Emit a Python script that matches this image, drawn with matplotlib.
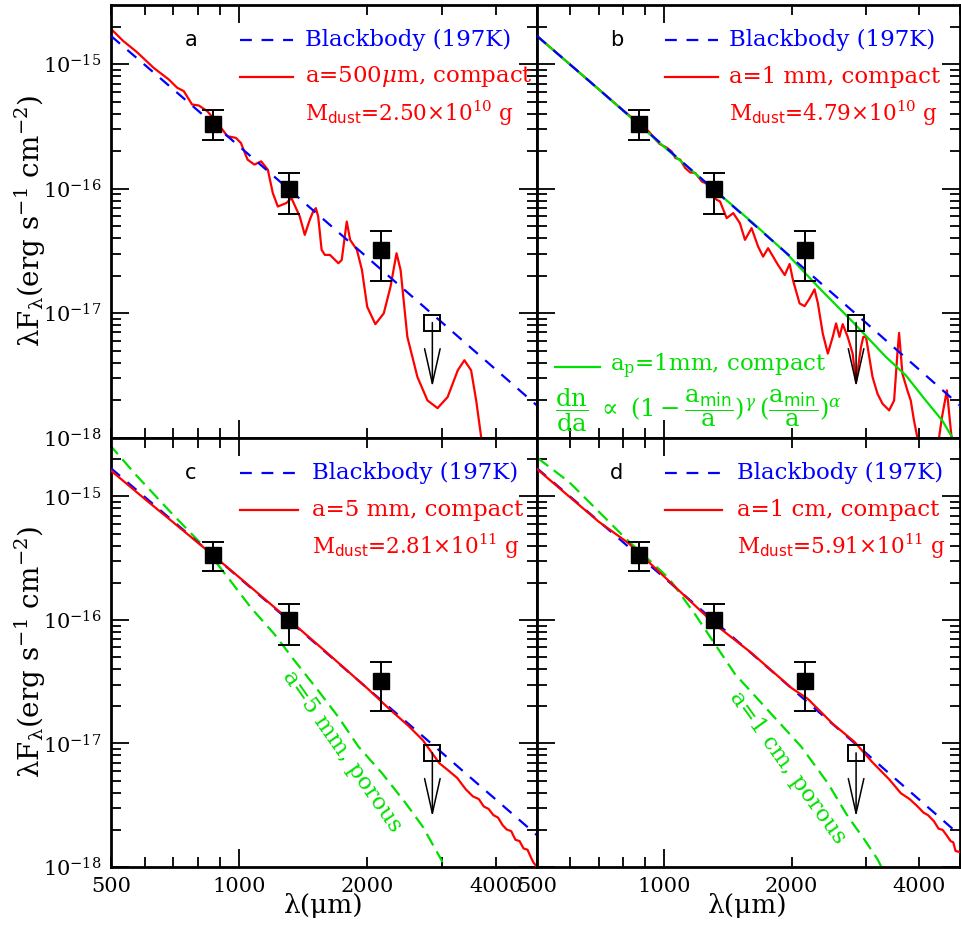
import numpy as np
import matplotlib
matplotlib.use('Agg')
import matplotlib.pyplot as plt
from matplotlib.ticker import FixedLocator, FuncFormatter, NullFormatter, LogFormatterSciNotation

plt.rcParams['font.family'] = ['DejaVu Serif']
plt.rcParams['mathtext.fontset'] = 'dejavuserif'
plt.rcParams['lines.scale_dashes'] = False

# ---------------- data ----------------
# observations (wavelength in micron, lambda*F_lambda in erg s^-1 cm^-2)
lam_obs = [870, 1310, 2150]
flux_obs = [3.34e-16, 9.95e-17, 3.19e-17]
flux_hi = [4.26e-16, 1.34e-16, 4.6e-17]
flux_lo = [2.48e-16, 6.25e-17, 1.82e-17]
lam_ul = 2840
flux_ul = 8.4e-18
flux_ul_tip = 2.55e-18

# blackbody 197 K (log10 of lambda F_lambda)
lam_bb = [500, 600, 700, 800, 1000, 1300, 1600, 2000, 2500, 3000, 3500, 4000, 4500, 5000]
log_bb = [-14.772, -15.004, -15.201, -15.372, -15.659, -15.997, -16.265, -16.554,
          -16.843, -17.079, -17.280, -17.453, -17.606, -17.743]

# panel a: a=500um compact
lam_a = [500, 534, 575, 629, 683, 715, 741, 775, 804, 841, 888, 938, 982, 1009, 1046, 1085,
         1126, 1167, 1199, 1232, 1290, 1326, 1387, 1425, 1464, 1491, 1513, 1532, 1561, 1589,
         1633, 1709, 1740, 1788, 1821, 1889, 1941, 1997, 2087, 2184, 2265, 2340, 2392, 2481,
         2620, 2766, 2921, 3084, 3258, 3377, 3502, 3599, 3698, 3760]
log_a = [-14.715, -14.812, -14.901, -15.027, -15.121, -15.188, -15.215, -15.323, -15.331,
         -15.376, -15.470, -15.578, -15.591, -15.632, -15.766, -15.806, -15.780, -15.847,
         -16.035, -16.143, -16.115, -16.075, -16.223, -16.371, -16.250, -16.183, -16.156,
         -16.223, -16.492, -16.532, -16.532, -16.599, -16.573, -16.264, -16.411, -16.492,
         -16.653, -16.949, -17.089, -17.002, -16.788, -16.519, -16.653, -17.191, -17.514,
         -17.702, -17.764, -17.675, -17.460, -17.379, -17.460, -17.702, -17.998, -18.200]

# panel b: a=1 mm compact
lam_b = [500, 600, 700, 800, 918, 950, 975, 1000, 1015, 1040, 1062, 1090, 1120, 1151, 1183,
         1226, 1271, 1300, 1330, 1354, 1404, 1455, 1509, 1551, 1608, 1666, 1712, 1759, 1857,
         1926, 1978, 2014, 2088, 2146, 2205, 2265, 2307, 2369, 2435, 2501, 2547, 2594, 2641,
         2713, 2787, 2839, 2917, 2954, 2997, 3051, 3106, 3191, 3279, 3400, 3493, 3556, 3589,
         3654, 3754, 3824, 3892, 3963, 4050, 4220, 4420, 4531, 4655, 4783, 4850]
log_b = [-14.772, -15.004, -15.201, -15.372, -15.538, -15.600, -15.640, -15.660, -15.672,
         -15.700, -15.753, -15.766, -15.833, -15.869, -15.873, -15.941, -15.968, -16.060,
         -16.089, -16.102, -16.236, -16.196, -16.277, -16.411, -16.317, -16.465, -16.546,
         -16.478, -16.613, -16.694, -16.605, -16.734, -16.922, -16.944, -16.882, -16.809,
         -16.922, -17.164, -17.325, -17.191, -17.083, -17.191, -17.089, -17.191, -17.325,
         -17.554, -17.272, -17.191, -17.191, -17.352, -17.514, -17.648, -17.728, -17.782,
         -17.702, -17.325, -17.159, -17.486, -17.621, -17.702, -17.863, -17.998, -18.150,
         -18.190, -18.100, -17.839, -17.621, -18.024, -18.200]

# panel b: a_p=1mm compact, size distribution
lam_bg = [500, 700, 1000, 1354, 1622, 1944, 2328, 2787, 3340, 3722, 4148, 4539, 4791, 5000]
log_bg = [-14.772, -15.201, -15.665, -16.048, -16.277, -16.519, -16.801, -17.070, -17.352,
          -17.500, -17.702, -17.863, -17.998, -18.100]

# panel c: a=5 mm compact
lam_c = [500, 600, 700, 850, 1000, 1300, 1600, 2000, 2250, 2500, 2700, 2950, 3100, 3250,
         3400, 3535, 3650, 3750, 3850, 3950, 4050, 4150, 4243, 4350, 4450, 4550, 4650, 4750,
         4850, 4906, 5000]
log_c = [-14.791, -15.020, -15.210, -15.450, -15.655, -15.990, -16.260, -16.555, -16.720,
         -16.860, -16.975, -17.160, -17.220, -17.280, -17.370, -17.428, -17.450, -17.510,
         -17.530, -17.580, -17.600, -17.660, -17.696, -17.710, -17.780, -17.790, -17.850,
         -17.860, -17.930, -17.964, -18.000]

# panel c: a=5 mm porous
lam_cg = [495, 574, 689, 826, 956, 1066, 1210, 1349, 1532, 1709, 1906, 2164, 2457, 2691,
          2946, 3000]
log_cg = [-14.577, -14.831, -15.125, -15.406, -15.688, -15.902, -16.116, -16.330, -16.571,
          -16.786, -17.027, -17.241, -17.482, -17.669, -17.910, -17.960]

# panel d: a=1 cm compact
lam_d = [500, 600, 700, 824, 1000, 1318, 1600, 2000, 2184, 2500, 2813, 3100, 3400, 3622,
         3800, 3964, 4100, 4200, 4338, 4450, 4550, 4662, 4750, 4820, 4880, 5000]
log_d = [-14.778, -15.010, -15.205, -15.380, -15.650, -16.036, -16.262, -16.552, -16.639,
         -16.840, -16.986, -17.150, -17.290, -17.402, -17.450, -17.508, -17.560, -17.580,
         -17.629, -17.690, -17.700, -17.749, -17.790, -17.800, -17.870, -17.880]

# panel d: a=1 cm porous
lam_dg = [502, 596, 810, 1024, 1183, 1318, 1469, 1759, 2108, 2435, 2713, 2969, 3191, 3260]
log_dg = [-14.690, -14.884, -15.340, -15.661, -15.956, -16.197, -16.438, -16.732, -17.027,
          -17.321, -17.589, -17.776, -17.937, -18.000]

y_major = [1e-18, 1e-17, 1e-16, 1e-15]
y_minor = [m * d for d in [1e-18, 1e-17, 1e-16, 1e-15] for m in range(2, 10) if m * d <= 3e-15]
x_major = [1000]
x_minor = [500, 600, 700, 800, 900, 2000, 3000, 4000, 5000]
xlabels = {500: '500', 1000: '1000', 2000: '2000', 4000: '4000'}

# ---------------- figure ----------------
W, H = 961, 935
fig = plt.figure(figsize=(W / 100, H / 100), dpi=100)

def px_axes(x0, y0, x1, y1):
    return fig.add_axes([x0 / W, 1 - y1 / H, (x1 - x0) / W, (y1 - y0) / H])

ax_a = px_axes(111, 5, 537, 437.5)
ax_b = px_axes(537, 5, 960, 437.5)
ax_c = px_axes(111, 437.5, 537, 867)
ax_d = px_axes(537, 437.5, 960, 867)

BLUE = '#0000ff'
RED = '#ff0000'
GREEN = '#00e000'
BBDASH = (8.5, 7.0)
GDASH = (9.5, 5.0)
FS = 16.5

def style(ax, bottom_labels, left_labels):
    ax.set_xscale('log')
    ax.set_yscale('log')
    ax.set_xlim(500, 5000)
    ax.set_ylim(1e-18, 3e-15)
    ax.xaxis.set_major_locator(FixedLocator(x_major))
    ax.xaxis.set_minor_locator(FixedLocator(x_minor))
    fmt = FuncFormatter(lambda v, p: xlabels.get(int(round(v)), ''))
    ax.xaxis.set_major_formatter(fmt)
    ax.xaxis.set_minor_formatter(fmt)
    ax.yaxis.set_major_locator(FixedLocator(y_major))
    ax.yaxis.set_minor_locator(FixedLocator(y_minor))
    ax.yaxis.set_major_formatter(LogFormatterSciNotation())
    ax.yaxis.set_minor_formatter(NullFormatter())
    ax.tick_params(which='both', direction='in', top=True, right=True, width=1.3,
                   labelsize=15, labelbottom=bottom_labels, labelleft=left_labels, pad=7)
    ax.tick_params(which='major', length=13)
    ax.tick_params(which='minor', length=7)
    for s in ax.spines.values():
        s.set_linewidth(2)

def draw_obs(ax):
    lo = [f - l for f, l in zip(flux_obs, flux_lo)]
    hi = [h - f for f, h in zip(flux_obs, flux_hi)]
    ax.errorbar(lam_obs, flux_obs, yerr=[lo, hi], fmt='s', color='black', ms=12,
                capsize=8, elinewidth=1.4, capthick=1.4, zorder=5)
    ax.annotate('', xy=(lam_ul, flux_ul_tip), xytext=(lam_ul, flux_ul),
                arrowprops=dict(arrowstyle='->,head_length=1.25,head_width=0.28',
                                color='black', lw=1.1, shrinkA=0, shrinkB=0,
                                mutation_scale=20), zorder=5)
    ax.plot([lam_ul], [flux_ul], 's', mfc='none', mec='black', mew=1.4, ms=11, zorder=6)

def bb(ax):
    ln, = ax.plot(lam_bb, 10 ** np.array(log_bb), color=BLUE, lw=1.6, ls='--', zorder=3)
    ln.set_dashes(BBDASH)

def legend(ax, letter, xl0, xl1, xt, ys, label_red, mass):
    tr = ax.transAxes
    ax.text(xl0 - 0.115, ys[0], letter, transform=tr, fontsize=15, ha='center', va='center',
            fontfamily='DejaVu Sans')
    ln, = ax.plot([xl0, xl1], [ys[0], ys[0]], color=BLUE, lw=1.6, transform=tr)
    ln.set_dashes(BBDASH)
    ax.text(xt, ys[0], 'Blackbody (197K)', transform=tr, color=BLUE, fontsize=FS,
            ha='left', va='center')
    ax.plot([xl0, xl1], [ys[1], ys[1]], color=RED, lw=1.6, transform=tr)
    ax.text(xt, ys[1], label_red, transform=tr, color=RED, fontsize=FS,
            ha='left', va='center')
    ax.text(xt, ys[2], mass, transform=tr, color=RED, fontsize=15.5, ha='left', va='center')

for ax, bl, ll in [(ax_a, False, True), (ax_b, False, False), (ax_c, True, True), (ax_d, True, False)]:
    style(ax, bl, ll)

def mass_label(m, e):
    return r'M$_{\mathsf{dust}}$=' + m + r'$\times$10$^{' + e + r'}$ g'

# panel a
bb(ax_a)
ax_a.plot(lam_a, 10 ** np.array(log_a), color=RED, lw=1.6, zorder=2)
draw_obs(ax_a)
legend(ax_a, 'a', 0.303, 0.427, 0.455, [0.919, 0.834, 0.750],
       r'a=500$\mu$m, compact', mass_label('2.50', '10'))

# panel b
ax_b.plot(lam_b, 10 ** np.array(log_b), color=RED, lw=1.6, zorder=2)
ax_b.plot(lam_bg, 10 ** np.array(log_bg), color=GREEN, lw=1.6, zorder=2)
bb(ax_b)
draw_obs(ax_b)
legend(ax_b, 'b', 0.303, 0.428, 0.455, [0.919, 0.834, 0.750],
       r'a=1 mm, compact', mass_label('4.79', '10'))
ax_b.plot([0.043, 0.149], [0.164, 0.164], color=GREEN, lw=1.6, transform=ax_b.transAxes)
ax_b.text(0.173, 0.164, r'a$_\mathrm{p}$=1mm, compact', transform=ax_b.transAxes,
          color=GREEN, fontsize=FS, ha='left', va='center')
ax_b.text(0.043, 0.062,
          r'$\dfrac{\mathrm{dn}}{\mathrm{da}}\ \propto\ (1-\dfrac{\mathrm{a}_{\mathsf{min}}}{\mathrm{a}})^{\gamma}\,(\dfrac{\mathrm{a}_{\mathsf{min}}}{\mathrm{a}})^{\alpha}$',
          transform=ax_b.transAxes, color=GREEN, fontsize=17.5, ha='left', va='center')

# panel c
ln, = ax_c.plot(lam_cg, 10 ** np.array(log_cg), color=GREEN, lw=1.6, zorder=2)
ln.set_dashes(GDASH)
bb(ax_c)
ax_c.plot(lam_c, 10 ** np.array(log_c), color=RED, lw=1.6, zorder=3)
draw_obs(ax_c)
legend(ax_c, 'c', 0.303, 0.439, 0.472, [0.918, 0.831, 0.746],
       r'a=5 mm, compact', mass_label('2.81', '11'))
ax_c.text(341.7 / W, 1 - 751.7 / H, 'a=5 mm, porous', transform=fig.transFigure,
          color=GREEN, fontsize=FS, rotation=-55, ha='center', va='center',
          rotation_mode='anchor')

# panel d
ln, = ax_d.plot(lam_dg, 10 ** np.array(log_dg), color=GREEN, lw=1.6, zorder=2)
ln.set_dashes(GDASH)
bb(ax_d)
ax_d.plot(lam_d, 10 ** np.array(log_d), color=RED, lw=1.6, zorder=3)
draw_obs(ax_d)
legend(ax_d, 'd', 0.303, 0.438, 0.472, [0.918, 0.831, 0.746],
       r'a=1 cm, compact', mass_label('5.91', '11'))
ax_d.text(788 / W, 1 - 768 / H, 'a=1 cm, porous', transform=fig.transFigure,
          color=GREEN, fontsize=FS, rotation=-54, ha='center', va='center',
          rotation_mode='anchor')

# axis labels
ylab = r'λF$_{\mathrm{λ}}$(erg s$^{-1}$ cm$^{-2}$)'
fig.text(30 / W, 1 - 221 / H, ylab, rotation=90, fontsize=20, ha='center', va='center')
fig.text(30 / W, 1 - 652 / H, ylab, rotation=90, fontsize=20, ha='center', va='center')
fig.text(324 / W, 1 - 906 / H, 'λ(μm)', fontsize=19, ha='center', va='center')
fig.text(748 / W, 1 - 906 / H, 'λ(μm)', fontsize=19, ha='center', va='center')

fig.savefig('out.png', dpi=100)
